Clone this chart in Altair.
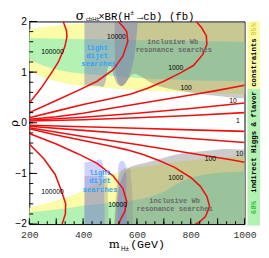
import altair as alt
import pandas as pd

# ---------------- data ----------------
M = [200, 250, 300, 350, 400, 450, 500, 550, 600, 650, 700, 750, 800, 850, 900, 950, 1000]
# upper half indirect-constraint bands (rho > 0)
up95_hi = [1.84, 1.89, 1.92, 1.94, 1.96, 1.97, 1.97, 1.97, 1.97, 1.97, 1.97, 1.97, 1.97, 1.97, 1.97, 1.97, 1.97]
up95_lo = [1.02, 0.90, 0.82, 0.76, 0.72, 0.70, 0.68, 0.66, 0.64, 0.63, 0.62, 0.61, 0.60, 0.59, 0.58, 0.57, 0.56]
up68_hi = [1.67, 1.67, 1.66, 1.66, 1.65, 1.65, 1.64, 1.64, 1.63, 1.63, 1.62, 1.62, 1.62, 1.61, 1.61, 1.60, 1.60]
up68_lo = [1.25, 1.13, 1.05, 1.00, 0.97, 0.95, 0.93, 0.91, 0.89, 0.87, 0.86, 0.85, 0.84, 0.83, 0.83, 0.82, 0.82]
# lower half bands (from -2 up to the curve)
dn95_hi = [-1.68, -1.61, -1.54, -1.45, -1.34, -1.20, -1.04, -0.93, -0.88, -0.85, -0.81, -0.77, -0.74, -0.71, -0.69, -0.67, -0.65]
dn68_hi = [-1.77, -1.74, -1.71, -1.68, -1.64, -1.61, -1.58, -1.55, -1.52, -1.46, -1.36, -1.20, -1.08, -1.02, -0.99, -0.97, -0.96]

# inclusive Wb resonance searches
wb_up_m = [517, 520, 528, 535, 541, 550, 560, 570, 580, 590, 600, 620, 650, 680, 720, 760, 800, 850, 900, 950, 1000]
wb_up_lo = [1.60, 1.00, 0.82, 0.75, 0.72, 0.74, 0.80, 0.88, 0.95, 0.97, 0.96, 0.90, 0.80, 0.72, 0.67, 0.63, 0.60, 0.56, 0.53, 0.50, 0.48]
wb_dn_m = [517, 520, 525, 532, 540, 550, 560, 575, 600, 640, 680, 740, 800, 860, 920, 1000]
wb_dn_hi = [-2.00, -1.75, -1.50, -1.30, -1.15, -1.02, -0.93, -0.87, -0.83, -0.78, -0.72, -0.63, -0.58, -0.55, -0.52, -0.53]

# light dijet searches
dj_up_m = [405, 430, 455, 465, 472, 478, 485, 490, 495, 500, 505, 510, 517, 525, 535, 541, 550, 560, 570, 580, 590, 597, 603]
dj_up_lo = [0.74, 0.73, 0.73, 0.72, 0.70, 0.73, 0.85, 1.05, 1.12, 1.13, 1.10, 1.00, 0.88, 0.78, 0.73, 0.72, 0.74, 0.80, 0.90, 1.05, 1.30, 1.60, 2.00]
dj_dn_grey1_m = [405, 490, 495]
dj_dn_grey1_hi = [-1.05, -1.05, -2.00]
dj_dn_grey2_m = [515, 525, 540, 560, 575, 582, 586]
dj_dn_grey2_hi = [-2.00, -1.20, -0.95, -0.88, -0.90, -1.30, -2.00]
dj_dn_blob1_m = [405, 440, 452, 460, 468, 474, 478, 480]
dj_dn_blob1_hi = [-0.78, -0.77, -0.74, -0.72, -0.74, -0.80, -1.00, -2.00]
dj_dn_blob2_m = [528, 530, 534, 540, 546, 552, 557, 560, 562]
dj_dn_blob2_hi = [-2.00, -0.90, -0.80, -0.76, -0.75, -0.77, -0.82, -0.92, -2.00]

# sigma x BR contours (fb)
c100000_up_m = [200, 242, 284, 308, 332, 340, 338, 326]
c100000_up_r = [0.39, 0.67, 1.00, 1.20, 1.50, 1.70, 1.82, 2.00]
c10000_up_m = [200, 300, 390, 452, 512, 548, 566, 562, 545, 530]
c10000_up_r = [0.20, 0.44, 0.66, 0.82, 1.05, 1.32, 1.60, 1.80, 1.92, 2.00]
c1000_up_m = [200, 300, 400, 488, 578, 640, 700, 760, 810, 845, 860, 858, 840, 820]
c1000_up_r = [0.10, 0.23, 0.36, 0.46, 0.57, 0.68, 0.82, 0.98, 1.13, 1.35, 1.55, 1.72, 1.88, 2.00]
c100_up_m = [200, 300, 400, 500, 600, 700, 800, 900, 1000]
c100_up_r = [0.07, 0.12, 0.19, 0.28, 0.37, 0.46, 0.55, 0.64, 0.74]
c10_up_m = [200, 400, 600, 800, 1000]
c10_up_r = [0.05, 0.11, 0.19, 0.28, 0.39]
c1_up_m = [200, 400, 600, 800, 1000]
c1_up_r = [0.035, 0.06, 0.10, 0.145, 0.20]

c100000_dn_m = [200, 254, 296, 320, 335, 334, 322]
c100000_dn_r = [-0.42, -0.71, -1.02, -1.35, -1.60, -1.80, -2.00]
c10000_dn_m = [200, 300, 380, 452, 512, 548, 562, 555, 540, 532]
c10000_dn_r = [-0.21, -0.42, -0.61, -0.80, -1.05, -1.30, -1.55, -1.75, -1.90, -2.00]
c1000_dn_m = [200, 300, 400, 500, 560, 620, 680, 740, 800, 835, 860, 870, 855, 830, 818]
c1000_dn_r = [-0.12, -0.24, -0.35, -0.46, -0.53, -0.62, -0.74, -0.88, -1.08, -1.25, -1.45, -1.65, -1.85, -1.97, -2.00]
c100_dn_m = [200, 400, 600, 800, 950, 1000]
c100_dn_r = [-0.10, -0.27, -0.43, -0.60, -0.73, -0.78]
c10_dn_m = [200, 400, 600, 800, 1000]
c10_dn_r = [-0.07, -0.15, -0.23, -0.31, -0.39]
c1_dn_m = [200, 400, 600, 800, 1000]
c1_dn_r = [-0.05, -0.08, -0.11, -0.14, -0.17]

lab_text = ["100000", "10000", "1000", "100", "10", "1",
            "100000", "10000", "1000", "100", "10"]
lab_m = [286, 524, 744, 783, 957, 975, 286, 528, 744, 873, 981]
lab_r = [1.40, 1.70, 1.09, 0.68, 0.43, 0.03, -1.37, -1.62, -1.09, -0.72, -0.61]

dijet_words = ["light", "dijet", "searches", "light", "dijet", "searches"]
dijet_m = [452, 452, 458, 463, 463, 463]
dijet_r = [1.47, 1.31, 1.15, -0.99, -1.15, -1.32]
wb_words = ["inclusive Wb", "resonance searches", "inclusive Wb", "resonance searches"]
wb_m = [733, 737, 740, 740]
wb_r = [1.60, 1.43, -1.54, -1.70]

strip_names = ["95%", "68%"]
strip_top = [2.00, 0.67]
strip_bot = [0.67, -2.03]

x_major = [200, 300, 400, 500, 600, 700, 800, 900, 1000]
y_major = [-2, -1, 0, 1, 2]
x_minor = [200 + i * 100 / 3 for i in range(25)]
y_minor = [round(-2 + 0.2 * i, 2) for i in range(21)]

# ---------------- styles ----------------
W, H = 222, 209
YEL, GRN = "#fbfba8", "#b4f2b4"
RED = "#ee1111"
xs = alt.Scale(domain=[200, 1000], nice=False, zero=False)
ys = alt.Scale(domain=[-2, 2], nice=False, zero=False)
MONO = "Liberation Mono"


def band(m, lo, hi, color, opacity=1.0):
    df = pd.DataFrame({"m": m, "lo": lo, "hi": hi})
    return alt.Chart(df).mark_area(color=color, opacity=opacity, clip=True).encode(
        x=alt.X("m:Q", scale=xs), y=alt.Y("lo:Q", scale=ys), y2="hi:Q")


def curve(m, r):
    df = pd.DataFrame({"m": m, "r": r, "o": list(range(len(m)))})
    return alt.Chart(df).mark_line(color=RED, strokeWidth=1.6, clip=True).encode(
        x=alt.X("m:Q", scale=xs), y=alt.Y("r:Q", scale=ys), order="o:Q")


def ptxt(s, x, y, size, font, color="black", weight="normal", angle=0, align="left"):
    return alt.Chart(pd.DataFrame({"t": [s]})).mark_text(
        font=font, fontSize=size, color=color, fontWeight=weight, angle=angle,
        align=align, baseline="alphabetic" if angle == 0 else "middle").encode(
        text="t:N", x=alt.value(x), y=alt.value(y))


layers = []
layers.append(band(M, up95_lo, up95_hi, YEL))
layers.append(band(M, up68_lo, up68_hi, GRN))
layers.append(band(M, [-2.0] * len(M), dn95_hi, YEL))
layers.append(band(M, [-2.0] * len(M), dn68_hi, GRN))
layers.append(band(wb_up_m, wb_up_lo, [2.0] * len(wb_up_m), "#707070", 0.36))
layers.append(band(wb_dn_m, [-2.0] * len(wb_dn_m), wb_dn_hi, "#707070", 0.36))
layers.append(band(dj_up_m, dj_up_lo, [2.0] * len(dj_up_m), "#808080", 0.28))
layers.append(band(dj_up_m, dj_up_lo, [2.0] * len(dj_up_m), "#5f6fff", 0.22))
layers.append(band(dj_dn_grey1_m, [-2.0] * 3, dj_dn_grey1_hi, "#808080", 0.28))
layers.append(band(dj_dn_grey2_m, [-2.0] * len(dj_dn_grey2_m), dj_dn_grey2_hi, "#808080", 0.28))
layers.append(band(dj_dn_blob1_m, [-2.0] * len(dj_dn_blob1_m), dj_dn_blob1_hi, "#6666ff", 0.3))
layers.append(band(dj_dn_blob2_m, [-2.0] * len(dj_dn_blob2_m), dj_dn_blob2_hi, "#6666ff", 0.3))

for m, r in [(c100000_up_m, c100000_up_r), (c10000_up_m, c10000_up_r), (c1000_up_m, c1000_up_r),
             (c100_up_m, c100_up_r), (c10_up_m, c10_up_r), (c1_up_m, c1_up_r),
             (c100000_dn_m, c100000_dn_r), (c10000_dn_m, c10000_dn_r), (c1000_dn_m, c1000_dn_r),
             (c100_dn_m, c100_dn_r), (c10_dn_m, c10_dn_r), (c1_dn_m, c1_dn_r)]:
    layers.append(curve(m, r))

labels = pd.DataFrame({"t": lab_text, "m": lab_m, "r": lab_r})
layers.append(alt.Chart(labels).mark_text(font="Liberation Sans", fontSize=7, color="black").encode(
    x=alt.X("m:Q", scale=xs), y=alt.Y("r:Q", scale=ys), text="t:N"))

dj = pd.DataFrame({"t": dijet_words, "m": dijet_m, "r": dijet_r})
layers.append(alt.Chart(dj).mark_text(font=MONO, fontSize=7.5, fontWeight="bold", color="#35a4f2").encode(
    x=alt.X("m:Q", scale=xs), y=alt.Y("r:Q", scale=ys), text="t:N"))
wb = pd.DataFrame({"t": wb_words, "m": wb_m, "r": wb_r})
layers.append(alt.Chart(wb).mark_text(font=MONO, fontSize=7.3, fontWeight="bold", color="#6a6a6a").encode(
    x=alt.X("m:Q", scale=xs), y=alt.Y("r:Q", scale=ys), text="t:N"))

# ticks (inward)
def xt(vals, ln):
    return alt.Chart(pd.DataFrame({"m": vals})).mark_rule(color="black", strokeWidth=1).encode(
        x=alt.X("m:Q", scale=xs), y=alt.value(H), y2=alt.value(H - ln))


def yt(vals, ln):
    return alt.Chart(pd.DataFrame({"r": vals})).mark_rule(color="black", strokeWidth=1).encode(
        y=alt.Y("r:Q", scale=ys), x=alt.value(0), x2=alt.value(ln))


layers += [xt(x_minor, 3), xt(x_major, 6), yt(y_minor, 4), yt(y_major, 8)]

# side strip: indirect Higgs & flavor constraints
strip = pd.DataFrame({"n": strip_names, "top": strip_top, "bot": strip_bot})
layers.append(alt.Chart(strip).mark_rect(clip=False).encode(
    x=alt.value(225), x2=alt.value(238), y=alt.Y("top:Q", scale=ys), y2="bot:Q",
    color=alt.Color("n:N", scale=alt.Scale(domain=strip_names, range=[YEL, GRN]), legend=None)))
layers.append(ptxt("indirect Higgs & flavor constraints", 232, 97, 7.6, MONO, weight="bold", angle=270, align="center"))
layers.append(ptxt("95%", 232, 8, 7.6, MONO, color="#e2cf3a", weight="bold", angle=270, align="center"))
layers.append(ptxt("68%", 232, 192, 7.6, MONO, color="#39c039", weight="bold", angle=270, align="center"))

# title pieces (pixel positions relative to the plot frame)
layers.append(ptxt("σ", 48, -2, 13, "DejaVu Serif"))
layers.append(ptxt("cbH±", 58.5, -0.5, 6, "Liberation Sans"))
layers.append(ptxt("×BR(H", 71, -2, 11, MONO))
layers.append(ptxt("±", 104, -6.5, 6.5, MONO))
layers.append(ptxt("→cb) (fb)", 111, -2, 11, MONO))
# x title pieces
layers.append(ptxt("m", 82, 234, 12, "DejaVu Serif"))
layers.append(ptxt("H±", 94.5, 237, 6.5, "Liberation Sans"))
layers.append(ptxt("(GeV)", 104, 234, 12, MONO))

base_axes = alt.Chart(pd.DataFrame({"m": [200, 1000], "r": [-2, 2]})).mark_point(opacity=0).encode(
    x=alt.X("m:Q", scale=xs, axis=alt.Axis(values=x_major, format="d", labelOverlap=False,
                                           labelFont=MONO, labelFontSize=10,
                                           ticks=False, domain=False, grid=False, title=None,
                                           labelPadding=6, labelColor="#333", labelFlush=False)),
    y=alt.Y("r:Q", scale=ys, axis=alt.Axis(values=y_major, format="d", labelOverlap=False,
                                           labelFont="Liberation Sans", labelFontSize=10.5,
                                           ticks=False, domain=False, grid=False, title="ρ",
                                           titleFont="DejaVu Serif", titleFontSize=12,
                                           titleFontWeight="normal", titleX=-12, titleY=H / 2,
                                           titleAngle=270, titleBaseline="alphabetic",
                                           titleAlign="center", labelPadding=3,
                                           labelFlush=False)))

chart = alt.layer(base_axes, *layers).properties(
    width=W, height=H,
    autosize=alt.AutoSizeParams(type="none"),
    padding={"left": 22, "top": 10, "right": 17, "bottom": 28}
).configure_view(stroke="black", strokeWidth=1)

chart.save("out.html", embed_options={"renderer": "svg", "actions": False})
